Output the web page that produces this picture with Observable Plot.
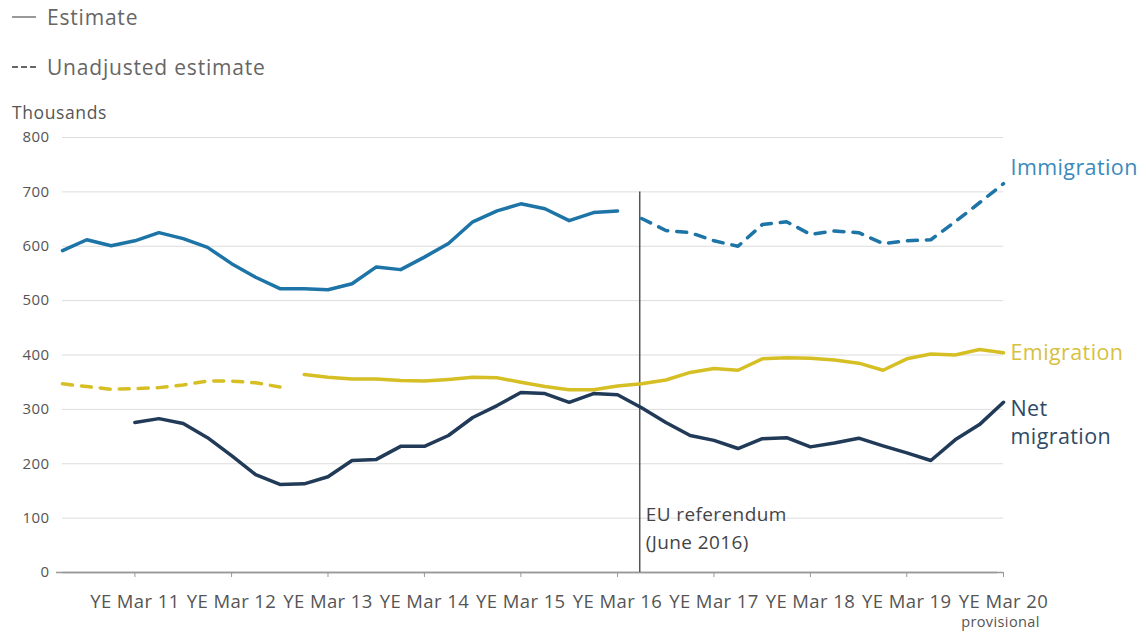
<!DOCTYPE html>
<html>
<head>
<meta charset="utf-8">
<script src="https://cdn.jsdelivr.net/npm/d3@7"></script>
<script src="https://cdn.jsdelivr.net/npm/@observablehq/plot@0.6"></script>
<style>
  html, body { margin: 0; padding: 0; background: #fff; }
  body { font-family: "Open Sans", sans-serif; }
  #wrap { position: relative; width: 1146px; height: 632px; }
  #legend { position: absolute; left: 12px; top: 0; color: #666; font-size: 21px; letter-spacing: 0.8px; }
  .leg { position: absolute; left: 0; white-space: nowrap; display: flex; align-items: center; }
  .leg svg { margin-right: 11px; }
  #unit { position: absolute; left: 12px; top: 100px; color: #555; font-size: 17.5px; letter-spacing: 0.6px; }
  #chart { position: absolute; left: 0; top: 0; }
  #chart svg text { letter-spacing: 0.4px; }
</style>
</head>
<body>
<div id="wrap">
  <div id="chart"></div>
  <div id="legend">
    <div class="leg" style="top:3px"><svg width="24" height="6"><line x1="0" x2="24" y1="3" y2="3" stroke="#777" stroke-width="1.5"/></svg>Estimate</div>
    <div class="leg" style="top:53px"><svg width="24" height="6"><line x1="0" x2="24" y1="3" y2="3" stroke="#666" stroke-width="2" stroke-dasharray="6,3"/></svg>Unadjusted estimate</div>
  </div>
  <div id="unit">Thousands</div>
</div>
<script>
// Quarters (year ending)
const quarters = [
  "YE Jun 10","YE Sep 10","YE Dec 10","YE Mar 11","YE Jun 11","YE Sep 11","YE Dec 11","YE Mar 12",
  "YE Jun 12","YE Sep 12","YE Dec 12","YE Mar 13","YE Jun 13","YE Sep 13","YE Dec 13","YE Mar 14",
  "YE Jun 14","YE Sep 14","YE Dec 14","YE Mar 15","YE Jun 15","YE Sep 15","YE Dec 15","YE Mar 16",
  "YE Jun 16","YE Sep 16","YE Dec 16","YE Mar 17","YE Jun 17","YE Sep 17","YE Dec 17","YE Mar 18",
  "YE Jun 18","YE Sep 18","YE Dec 18","YE Mar 19","YE Jun 19","YE Sep 19","YE Dec 19","YE Mar 20"
];
// Thousands
const immigration = [
  592, 612, 601, 610, 625, 614, 598, 568, 543, 522, 522, 520, 531, 562, 557, 580,
  605, 645, 665, 678, 669, 647, 662, 665, 651, 629, 625, 610, 600, 640, 645, 622,
  628, 625, 605, 610, 612, 645, 680, 715
];
const immigrationStatus = [
  ...Array(24).fill("Estimate"), ...Array(16).fill("Unadjusted estimate")
];
const emigration = [
  347, 342, 337, 338, 340, 345, 352, 352, 349, 341, 364, 359, 356, 356, 353, 352,
  355, 359, 358, 350, 342, 336, 336, 343, 347, 354, 368, 375, 372, 393, 395, 394,
  391, 385, 372, 393, 402, 400, 410, 404
];
const emigrationStatus = [
  ...Array(10).fill("Unadjusted estimate"), ...Array(30).fill("Estimate")
];
const netMigration = [
  null, null, null, 276, 283, 274, 248, 215, 180, 162, 163, 176, 206, 208, 232, 232,
  252, 285, 307, 331, 329, 313, 329, 327, 303, 276, 252, 243, 228, 246, 248, 231,
  238, 247, 233, 220, 206, 244, 272, 313
];
const netStatus = Array(40).fill("Estimate");

const seriesNames = ["Immigration", "Emigration", "Net migration"];
const seriesLabels = ["Immigration", "Emigration", "Net\nmigration"];
const seriesColors = ["#1d74a6", "#d6bf25", "#213a58"];
const labelColors = ["#3b8abc", "#d8c040", "#2f4a66"];

const yTicks = [0, 100, 200, 300, 400, 500, 600, 700, 800];
const referendum = [{date: "2016-06-23", label: "EU referendum\n(June 2016)"}];
const provisionalNote = [{q: "YE Mar 20", label: "provisional"}];

const monthIdx = {Mar: 2, Jun: 5, Sep: 8, Dec: 11};
function qDate(label) {
  const [, mon, yy] = label.split(" ");
  return new Date(Date.UTC(2000 + +yy, monthIdx[mon] + 1, 0));
}

const rows = [];
[[immigration, immigrationStatus], [emigration, emigrationStatus], [netMigration, netStatus]]
  .forEach(([vals, status], s) => {
    vals.forEach((v, i) => rows.push({
      series: seriesNames[s], q: quarters[i], date: qDate(quarters[i]),
      value: v == null ? NaN : v, status: status[i]
    }));
  });

const seg = (status) => rows.filter(d => d.status === status);
const colorScale = {domain: seriesNames, range: seriesColors};

const lastRows = seriesNames.map((s, k) => {
  const r = rows.filter(d => d.series === s);
  const last = r[r.length - 1];
  return {...last, label: seriesLabels[k], lc: labelColors[k]};
});

const marchTicks = quarters.filter(q => q.startsWith("YE Mar")).map(qDate);

const plot = Plot.plot({
  width: 1146,
  height: 632,
  marginLeft: 62,
  marginRight: 143,
  marginTop: 137,
  marginBottom: 60,
  style: {fontFamily: "Open Sans, sans-serif", background: "transparent"},
  x: {type: "utc", domain: [qDate(quarters[0]), qDate(quarters[quarters.length - 1])]},
  y: {domain: [0, 800]},
  color: colorScale,
  marks: [
    Plot.gridY(yTicks.filter(t => t > 0), {stroke: "#dcdcdc", strokeOpacity: 1, strokeWidth: 1}),
    Plot.axisY(yTicks, {tickSize: 0, tickPadding: 13, fontSize: 15, fill: "#555", label: null}),
    Plot.tickY([0], {y: d => d, dx: -6, stroke: "#999", strokeWidth: 1.5, inset: 0}),
    Plot.axisX(marchTicks, {
      tickSize: 5, tickPadding: 17, fontSize: 18.5, fill: "#555", stroke: "#999", label: null,
      tickFormat: d => quarters.find(q => +qDate(q) === +d)
    }),
    Plot.ruleY([0], {stroke: "#999", strokeWidth: 1.5}),
    Plot.ruleX(referendum, {x: d => new Date(d.date), y1: 0, y2: 700, stroke: "#555", strokeWidth: 1.5}),
    Plot.text(referendum, {
      x: d => new Date(d.date), text: "label", frameAnchor: "bottom", textAnchor: "start",
      lineAnchor: "bottom", dx: 6, dy: -24, fontSize: 19, fill: "#444", lineHeight: 1.45
    }),
    Plot.text(provisionalNote, {
      x: d => qDate(d.q), text: "label", frameAnchor: "bottom", lineAnchor: "bottom",
      dx: -3, dy: 54, fontSize: 14.5, fill: "#555"
    }),
    Plot.line(seg("Estimate"), {
      x: "date", y: "value", z: "series", stroke: "series", strokeWidth: 3.5,
      strokeLinejoin: "round", strokeLinecap: "round"
    }),
    Plot.line(seg("Unadjusted estimate"), {
      x: "date", y: "value", z: "series", stroke: "series", strokeWidth: 3.5,
      strokeDasharray: "10,9", strokeLinejoin: "round"
    }),
    Plot.text(lastRows.filter(d => d.series === "Immigration"), {
      x: "date", y: "value", text: "label", fill: "lc", textAnchor: "start",
      dx: 7, dy: -16, fontSize: 21.5
    }),
    Plot.text(lastRows.filter(d => d.series === "Emigration"), {
      x: "date", y: "value", text: "label", fill: "lc", textAnchor: "start",
      dx: 7, dy: 0, fontSize: 21.5
    }),
    Plot.text(lastRows.filter(d => d.series === "Net migration"), {
      x: "date", y: "value", text: "label", fill: "lc", textAnchor: "start",
      lineAnchor: "top", dx: 7, dy: -6, fontSize: 21.5, lineHeight: 1.3
    })
  ]
});
document.getElementById("chart").appendChild(plot);
</script>
</body>
</html>
